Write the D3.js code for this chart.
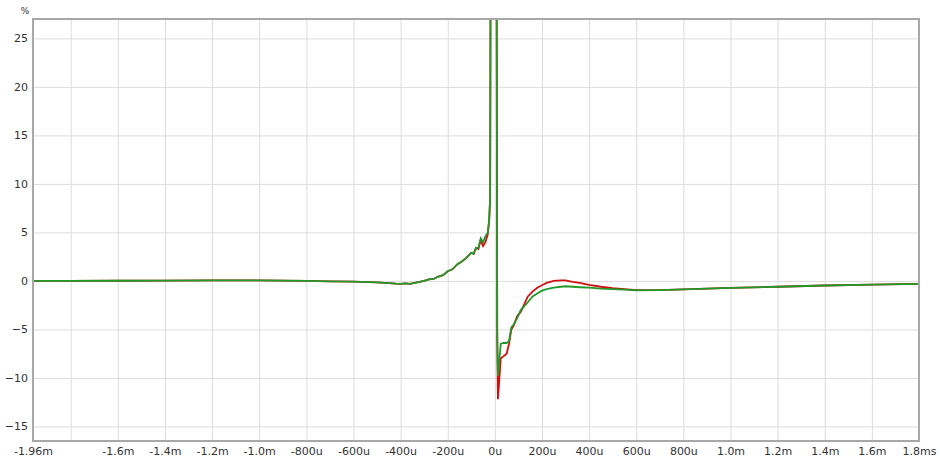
<!DOCTYPE html>
<html>
<head>
<meta charset="utf-8">
<script src="https://cdn.jsdelivr.net/npm/d3@7"></script>
<style>
  body { margin: 0; background: #fff; }
  svg { display: block; font-family: 'DejaVu Sans', Verdana, sans-serif; }
</style>
</head>
<body>
<div id="chart"></div>
<script>
// Temps en microsecondes (axe X partagé)
const timeUs = [
  -1960, -1800, -1600, -1400, -1200, -1000, -900, -800, -700, -600,
  -500, -450, -420, -400, -380, -360, -340, -320, -300, -280,
  -260, -240, -220, -200, -180, -160, -140, -120, -100, -90,
  -80, -70, -60, -50, -40, -30, -24, -20, -16, 6,
  10, 13, 18, 25, 35, 50, 60, 70, 80, 95,
  110, 125, 140, 160, 180, 200, 220, 250, 280, 300,
  330, 360, 400, 450, 500, 550, 600, 700, 800, 900,
  1000, 1200, 1400, 1600, 1800
]

// Courbe rouge (%)
const redValues = [
  0.0, 0.0, 0.02, 0.03, 0.05, 0.05, 0.03, 0.0, -0.05, -0.08,
  -0.15, -0.22, -0.28, -0.3, -0.25, -0.3, -0.2, -0.1, 0.0, 0.15,
  0.2, 0.45, 0.6, 1.0, 1.2, 1.7, 2.0, 2.4, 2.9, 2.8,
  3.4, 3.3, 4.2, 3.6, 4.0, 4.8, 6.3, 8.5, 60, 60,
  -6.0, -12.2, -10.5, -8.0, -7.8, -7.5, -6.5, -5.0, -4.6, -3.6,
  -3.2, -2.4, -1.6, -1.1, -0.7, -0.45, -0.2, 0.0, 0.05, 0.05,
  -0.1, -0.2, -0.4, -0.6, -0.75, -0.85, -0.95, -0.95, -0.88, -0.8,
  -0.72, -0.6, -0.47, -0.38, -0.3
]

// Courbe verte (%)
const greenValues = [
  0.0, 0.0, 0.02, 0.03, 0.05, 0.05, 0.03, 0.0, -0.05, -0.08,
  -0.15, -0.22, -0.28, -0.3, -0.25, -0.3, -0.2, -0.1, 0.0, 0.15,
  0.2, 0.45, 0.6, 1.0, 1.2, 1.7, 2.0, 2.4, 2.9, 2.8,
  3.4, 3.4, 4.4, 4.0, 4.6, 5.0, 6.3, 8.5, 60, 60,
  -5.0, -9.8, -8.5, -6.5, -6.4, -6.4, -6.2, -4.8, -4.5, -3.8,
  -3.0, -2.6, -2.2, -1.6, -1.3, -1.0, -0.85, -0.7, -0.6, -0.55,
  -0.6, -0.65, -0.7, -0.8, -0.85, -0.9, -0.98, -0.95, -0.88, -0.8,
  -0.72, -0.6, -0.47, -0.38, -0.3
]

// Graduations
const xGridValues = [-1800, -1600, -1400, -1200, -1000, -800, -600, -400, -200, 0,
  200, 400, 600, 800, 1000, 1200, 1400, 1600]
const xTickValues = [-1960, -1600, -1400, -1200, -1000, -800, -600, -400, -200, 0,
  200, 400, 600, 800, 1000, 1200, 1400, 1600, 1800]
const xTickLabels = ['-1.96m', '-1.6m', '-1.4m', '-1.2m', '-1.0m', '-800u', '-600u', '-400u', '-200u', '0u',
  '200u', '400u', '600u', '800u', '1.0m', '1.2m', '1.4m', '1.6m', '1.8ms']
const yTickValues = [-15, -10, -5, 0, 5, 10, 15, 20, 25]

const COLORS = {
  red: '#d10f0f',
  green: '#22992a',
  grid: '#dcdcdc',
  frame: '#a8a8a8',
  text: '#333333',
}

const width = 940, height = 462
const m = { left: 33, right: 21, top: 19, bottom: 21 }

const svg = d3.select('#chart').append('svg')
  .attr('width', width).attr('height', height)

const x = d3.scaleLinear().domain([-1960, 1800]).range([m.left, width - m.right])
const y = d3.scaleLinear().domain([-16.5, 27]).range([height - m.bottom, m.top])

// Grille
svg.append('g')
  .call(d3.axisBottom(x).tickValues(xGridValues).tickSize(-(y.range()[0] - y.range()[1])).tickFormat(''))
  .attr('transform', `translate(0,${y.range()[0]})`)
  .call(g => g.select('.domain').remove())
  .call(g => g.selectAll('.tick line').attr('stroke', COLORS.grid))

svg.append('g')
  .attr('transform', `translate(${x.range()[0]},0)`)
  .call(d3.axisLeft(y).tickValues(yTickValues).tickSize(-(x.range()[1] - x.range()[0])).tickFormat(''))
  .call(g => g.select('.domain').remove())
  .call(g => g.selectAll('.tick line').attr('stroke', COLORS.grid))

// Libellés Y
svg.append('g')
  .attr('transform', `translate(${x.range()[0]},0)`)
  .call(d3.axisLeft(y).tickValues(yTickValues).tickSize(0).tickPadding(5).tickFormat(d3.format('d')))
  .call(g => g.select('.domain').remove())
  .call(g => g.selectAll('.tick text').attr('fill', COLORS.text).attr('font-size', 11)
    .attr('font-family', "'DejaVu Sans', sans-serif"))

// Libellés X
svg.append('g')
  .attr('transform', `translate(0,${y.range()[0]})`)
  .call(d3.axisBottom(x).tickValues(xTickValues).tickSize(0).tickPadding(6)
    .tickFormat((d, i) => xTickLabels[i]))
  .call(g => g.select('.domain').remove())
  .call(g => g.selectAll('.tick text').attr('fill', COLORS.text).attr('font-size', 11)
    .attr('font-family', "'DejaVu Sans', sans-serif"))

// Unité
svg.append('text')
  .attr('x', 25).attr('y', 14)
  .attr('text-anchor', 'middle')
  .attr('fill', COLORS.text)
  .attr('font-size', 9)
  .text('%')

// Courbes, découpées au cadre
svg.append('clipPath').attr('id', 'plot-clip')
  .append('rect')
  .attr('x', x.range()[0]).attr('y', y.range()[1])
  .attr('width', x.range()[1] - x.range()[0])
  .attr('height', y.range()[0] - y.range()[1])

const line = d3.line()
  .x(d => x(d[0]))
  .y(d => y(d[1]))

const plot = svg.append('g').attr('clip-path', 'url(#plot-clip)')
plot.append('path')
  .datum(timeUs.map((t, i) => [t, redValues[i]]))
  .attr('fill', 'none').attr('stroke', COLORS.red).attr('stroke-width', 1.8)
  .attr('d', line)
plot.append('path')
  .datum(timeUs.map((t, i) => [t, greenValues[i]]))
  .attr('fill', 'none').attr('stroke', COLORS.green).attr('stroke-width', 1.8)
  .attr('d', line)

// Cadre
svg.append('rect')
  .attr('x', x.range()[0]).attr('y', y.range()[1])
  .attr('width', x.range()[1] - x.range()[0])
  .attr('height', y.range()[0] - y.range()[1])
  .attr('fill', 'none')
  .attr('stroke', COLORS.frame)
  .attr('stroke-width', 2)
</script>
</body>
</html>
